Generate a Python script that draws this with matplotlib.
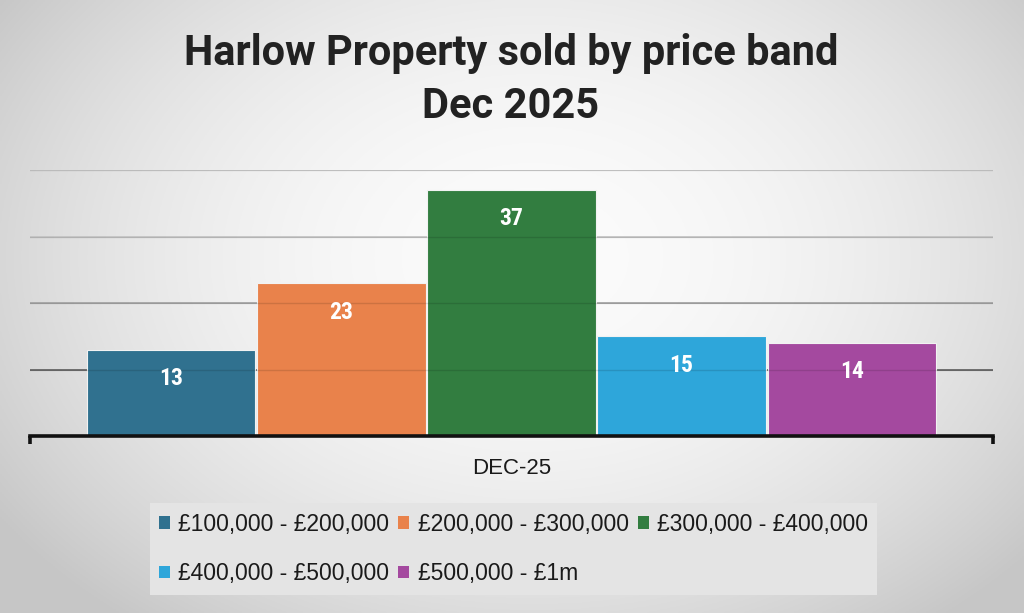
import numpy as np
import matplotlib
matplotlib.use("Agg")
import matplotlib.pyplot as plt
from matplotlib.patches import Patch

# ---- data ----
title_lines = ["Harlow Property sold by price band", "Dec 2025"]
category = "DEC-25"
bands = ["£100,000 - £200,000", "£200,000 - £300,000", "£300,000 - £400,000",
         "£400,000 - £500,000", "£500,000 - £1m"]
values = [13, 23, 37, 15, 14]
colors = ["#30718f", "#e9824b", "#327d40", "#2ea6da", "#a4499f"]
grid_levels = [10, 20, 30, 40]

NARROW = ["Liberation Sans Narrow", "Roboto Condensed", "DejaVu Sans"]
TITLE = ["Roboto", "DejaVu Sans"]
REG = ["Liberation Sans", "DejaVu Sans"]
plt.rcParams["font.family"] = REG

fig = plt.figure(figsize=(10.24, 6.13), dpi=100)

# background radial gradient
bg = fig.add_axes([0, 0, 1, 1], zorder=-10)
yy, xx = np.mgrid[0:1:300j, 0:1:500j]
r = np.sqrt(((xx - 0.52) / 0.62) ** 2 + ((yy - 0.42) / 0.75) ** 2)
shade = np.clip(0.985 - 0.2 * r ** 2, 0.78, 1.0)
bg.imshow(np.dstack([shade] * 3), aspect="auto", extent=[0, 1, 0, 1], origin="upper")
bg.set_axis_off()

ax = fig.add_axes([30 / 1024, 1 - 436 / 613, 963 / 1024, (436 - 170) / 613])
ax.set_facecolor("none")
n = len(values)
x = np.arange(n)
pad = 0.33
ax.set_xlim(-0.5 - pad, n - 0.5 + pad)
ax.set_ylim(0, 40)

grid_cols = ["#5e5e5e", "#a4a4a4", "#c6c6c6", "#d4d4d4"]
for g, c in zip(grid_levels, grid_cols):
    ax.axhline(g, color=c, lw=1.2, zorder=0)
    ax.axhline(g, color="black", lw=1.0, alpha=0.12, zorder=2.5)

bars = ax.bar(x, values, width=0.99, color=colors, edgecolor="#f2f2f2", linewidth=0.8, zorder=2)
for xi, v in zip(x, values):
    ax.annotate(str(v), (xi, v), xytext=(0, -29), textcoords="offset pixels",
                ha="center", va="center", color="white", fontsize=17, fontweight="bold",
                family=NARROW, zorder=3)

for s in ["top", "left", "right"]:
    ax.spines[s].set_visible(False)
ax.spines["bottom"].set_linewidth(2.6)
ax.spines["bottom"].set_color("#111111")
ax.set_yticks([])
ax.set_xticks([(n - 1) / 2])
ax.set_xticklabels([category], fontsize=16, color="#1a1a1a")
ax.tick_params(axis="x", length=0, pad=16)
ax.set_xticks([-0.5 - pad, n - 0.5 + pad], minor=True)
ax.tick_params(axis="x", which="minor", length=6, width=2.6, color="#111111")

# title, fitted to the reference width
t1 = fig.text(511 / 1024, 1 - 53 / 613, title_lines[0], ha="center", va="center",
              fontsize=30, fontweight="bold", color="#222222", family=TITLE)
t2 = fig.text(511 / 1024, 1 - 107 / 613, title_lines[1], ha="center", va="center",
              fontsize=30, fontweight="bold", color="#222222", family=TITLE)
fig.canvas.draw()
w = t1.get_window_extent().width
fs = 30 * 653 / w
t1.set_fontsize(fs)
t2.set_fontsize(fs)

handles = [Patch(facecolor=c, edgecolor="none", label=b) for c, b in zip(colors, bands)]
ncol = 3
nrow = int(np.ceil(n / ncol))
order = []
for col in range(ncol):
    for row in range(nrow):
        k = row * ncol + col
        if k < n:
            order.append(k)
leg = fig.legend([handles[k] for k in order], [bands[k] for k in order],
                 loc="center", bbox_to_anchor=(513.5 / 1024, 1 - 549 / 613), ncol=ncol,
                 fontsize=16.5, frameon=True, facecolor="#e4e4e4", edgecolor="none",
                 framealpha=1, fancybox=False, handlelength=0.48, handleheight=0.48,
                 handletextpad=0.35, columnspacing=0.4, labelspacing=1.15,
                 borderpad=0.42, borderaxespad=0)
for t in leg.get_texts():
    t.set_color("#1a1a1a")

fig.savefig("out.png", dpi=100)
